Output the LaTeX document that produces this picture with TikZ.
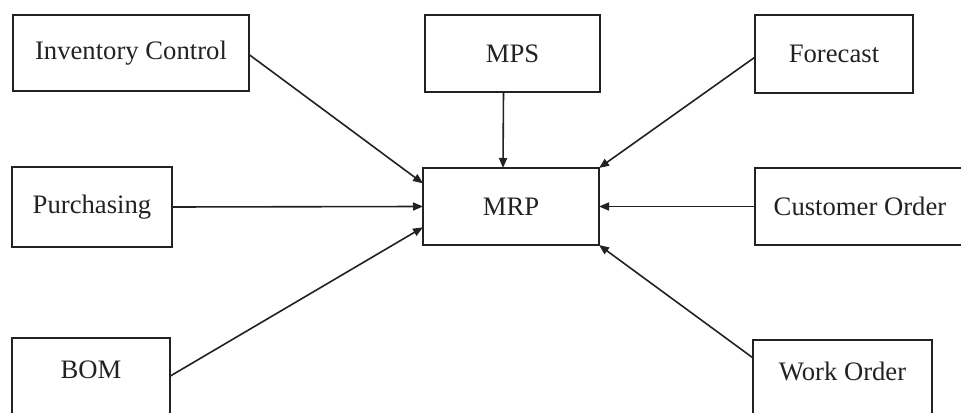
\documentclass[tikz,border=0pt]{standalone}
\usepackage{fontspec}
\setmainfont{Liberation Serif}
\usetikzlibrary{arrows.meta,calc}
\definecolor{ink}{HTML}{222222}
\begin{document}
\begin{tikzpicture}[x=0.75pt,y=-0.75pt,
  box/.style={draw=ink,line width=1.4pt,inner sep=0pt,outer sep=0pt,
    text=ink,font=\fontsize{20pt}{23pt}\selectfont},
  feed/.style={draw=ink,line width=1.2pt,-{Triangle[length=7.5pt,width=6pt]}}]
  \useasboundingbox (0,0) rectangle (961,413);
  \clip (0,0) rectangle (961,413);
  \fill[white] (0,0) rectangle (961,413);

  % source and target boxes
  \node[box,minimum width=236*0.75pt,minimum height=76*0.75pt] (inv)  at (131,53)    {Inventory Control};
  \node[box,minimum width=175*0.75pt,minimum height=77*0.75pt] (mps)  at (512.5,53.5) {MPS};
  \node[box,minimum width=158*0.75pt,minimum height=78*0.75pt] (fc)   at (834,54)    {Forecast};
  \node[box,minimum width=160*0.75pt,minimum height=80*0.75pt] (pur)  at (92,207)    {Purchasing};
  \node[box,minimum width=176*0.75pt,minimum height=77*0.75pt] (mrp)  at (511,206.5) {MRP};
  \node[box,minimum width=210*0.75pt,minimum height=77*0.75pt] (cust) at (860,206.5) {Customer Order};
  \node[box,minimum width=158*0.75pt,minimum height=78*0.75pt,
        text height=0.7em,text depth=5.25pt] (bom) at (91,377) {BOM};
  \node[box,minimum width=179*0.75pt,minimum height=78*0.75pt,
        text height=0.7em,text depth=5.25pt] (wo)  at (842.5,379) {Work Order};

  % feeds into MRP
  \draw[feed] ($(inv.north east)!0.52!(inv.south east)$) -- ($(mrp.north west)!0.2!(mrp.south west)$);
  \draw[feed] (pur.east) -- (mrp.west);
  \draw[feed] ($(bom.north east)!0.49!(bom.south east)$) -- ($(mrp.north west)!0.77!(mrp.south west)$);
  \draw[feed] ($(mps.south)+(-9,0)$) -- ($(mrp.north)+(-8,0)$);
  \draw[feed] ($(fc.north west)!0.54!(fc.south west)$) -- (mrp.north east);
  \draw[feed] (cust.west) -- (mrp.east);
  \draw[feed] ($(wo.north west)!0.23!(wo.south west)$) -- (mrp.south east);
\end{tikzpicture}
\end{document}
